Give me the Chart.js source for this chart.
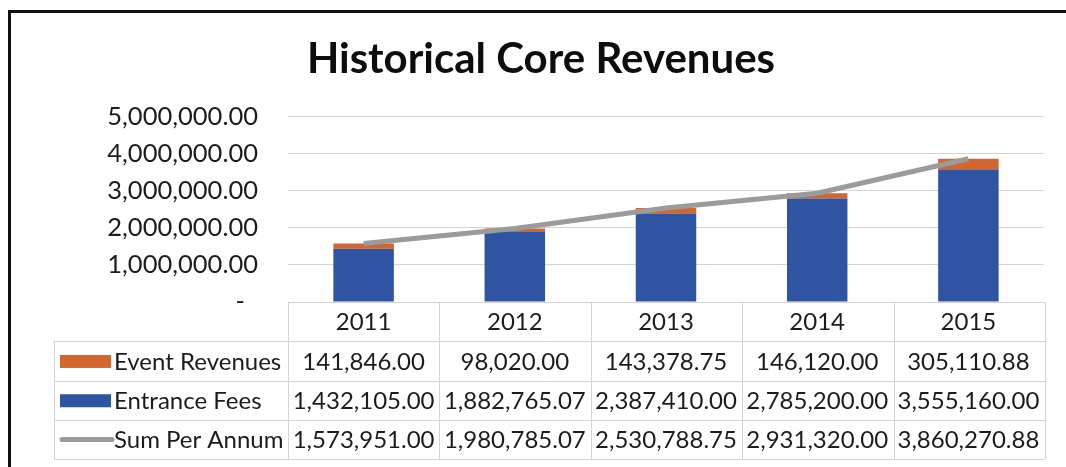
<!DOCTYPE html>
<html>
<head>
<meta charset="utf-8">
<script src="https://cdn.jsdelivr.net/npm/chart.js@4"></script>
<style>
    html, body { margin: 0; padding: 0; background: #fff; overflow: hidden; }
    #wrap { position: relative; width: 1066px; height: 467px; }
    #frame {
        position: absolute; left: 8px; top: 10px; width: 1100px; height: 500px;
        border-left: 3px solid #111; border-top: 3px solid #111;
    }
    canvas { position: absolute; left: 0; top: 0; }
</style>
</head>
<body>
<div id="wrap">
    <div id="frame"></div>
    <canvas id="revenueChart" width="1066" height="467"></canvas>
</div>
<script>
const years = ['2011', '2012', '2013', '2014', '2015'];
const eventRevenues = [141846.00, 98020.00, 143378.75, 146120.00, 305110.88];
const entranceFees = [1432105.00, 1882765.07, 2387410.00, 2785200.00, 3555160.00];
const sumPerAnnum = [1573951.00, 1980785.07, 2530788.75, 2931320.00, 3860270.88];
const yMax = 5000000;
const yStep = 1000000;

const ORANGE = '#d2662e';
const BLUE = '#2f54a2';
const GREY = '#9b9b9b';
const TEXT = '#1c1c1c';
const LINES = '#d4d4d4';

function formatNumber(value) {
    return value.toLocaleString('en-US', { minimumFractionDigits: 2, maximumFractionDigits: 2 });
}

// data table under the plot, lined up with the category axis
const dataTable = {
    id: 'dataTable',
    afterDraw(chart) {
        const { ctx, chartArea, scales: { x } } = chart;
        const rowH = 39.3;
        const top = chartArea.bottom;
        const left = 54;
        const right = chartArea.right + 1;
        const colW = (right - chartArea.left) / years.length;

        const rows = [
            { label: 'Event Revenues', values: eventRevenues, color: ORANGE, key: 'box' },
            { label: 'Entrance Fees', values: entranceFees, color: BLUE, key: 'box' },
            { label: 'Sum Per Annum', values: sumPerAnnum, color: GREY, key: 'line' }
        ];
        const bottom = top + rowH * (rows.length + 1);

        ctx.save();
        ctx.strokeStyle = LINES;
        ctx.lineWidth = 1;
        ctx.beginPath();
        ctx.moveTo(chartArea.left, top + 0.5);
        ctx.lineTo(right, top + 0.5);
        for (let r = 1; r <= rows.length + 1; r++) {
            const yy = Math.round(top + rowH * r) + 0.5;
            ctx.moveTo(left, yy);
            ctx.lineTo(right, yy);
        }
        for (let c = 0; c <= years.length; c++) {
            const xx = Math.round(chartArea.left + colW * c) + 0.5;
            ctx.moveTo(xx, top);
            ctx.lineTo(xx, bottom);
        }
        ctx.moveTo(left + 0.5, top + rowH);
        ctx.lineTo(left + 0.5, bottom);
        ctx.stroke();

        ctx.font = '24px Lato';
        ctx.fillStyle = TEXT;
        ctx.textBaseline = 'middle';
        ctx.textAlign = 'center';
        years.forEach((yr, i) => {
            ctx.fillText(yr, x.getPixelForValue(i), top + rowH / 2 + 1);
        });

        rows.forEach((row, r) => {
            const cy = top + rowH * (r + 1) + rowH / 2 + 1;
            if (row.key === 'box') {
                ctx.fillStyle = row.color;
                ctx.fillRect(60, cy - 7, 51, 13);
            } else {
                ctx.strokeStyle = row.color;
                ctx.lineWidth = 5;
                ctx.lineCap = 'round';
                ctx.beginPath();
                ctx.moveTo(62, cy - 1);
                ctx.lineTo(112, cy - 1);
                ctx.stroke();
            }
            ctx.fillStyle = TEXT;
            ctx.textAlign = 'left';
            ctx.fillText(row.label, 114, cy);
            ctx.textAlign = 'center';
            row.values.forEach((v, i) => {
                ctx.fillText(formatNumber(v), x.getPixelForValue(i), cy);
            });
        });
        ctx.restore();
    }
};

const ctx = document.getElementById('revenueChart').getContext('2d');
new Chart(ctx, {
    data: {
        labels: years,
        datasets: [
            {
                type: 'line',
                label: 'Sum Per Annum',
                data: sumPerAnnum,
                stack: 'sum',
                borderColor: GREY,
                borderWidth: 5,
                pointRadius: 0,
                tension: 0,
                order: 0
            },
            {
                type: 'bar',
                label: 'Entrance Fees',
                data: entranceFees,
                stack: 'rev',
                backgroundColor: BLUE,
                categoryPercentage: 1,
                barPercentage: 0.4,
                order: 1
            },
            {
                type: 'bar',
                label: 'Event Revenues',
                data: eventRevenues,
                stack: 'rev',
                backgroundColor: ORANGE,
                categoryPercentage: 1,
                barPercentage: 0.4,
                order: 1
            }
        ]
    },
    options: {
        responsive: false,
        animation: false,
        layout: {
            padding: { left: 38, right: 22, top: 0, bottom: 165 }
        },
        scales: {
            x: {
                display: false,
                stacked: true
            },
            y: {
                stacked: true,
                min: 0,
                max: yMax,
                border: { display: false },
                grid: {
                    color: (c) => c.tick.value === 0 ? 'rgba(0,0,0,0)' : LINES,
                    drawTicks: false
                },
                ticks: {
                    stepSize: yStep,
                    padding: 30,
                    color: TEXT,
                    font: { family: 'Lato', size: 25.5 },
                    callback: (v) => v === 0 ? '-  ' : formatNumber(v)
                },
                afterFit: (scale) => { scale.width = 250; }
            }
        },
        plugins: {
            legend: { display: false },
            tooltip: { enabled: false },
            title: {
                display: true,
                text: 'Historical Core Revenues',
                color: '#0d0d0d',
                font: { family: 'Lato', size: 42, weight: 'bold' },
                padding: { top: 34, bottom: 32 }
            }
        }
    },
    plugins: [dataTable]
});
</script>
</body>
</html>
